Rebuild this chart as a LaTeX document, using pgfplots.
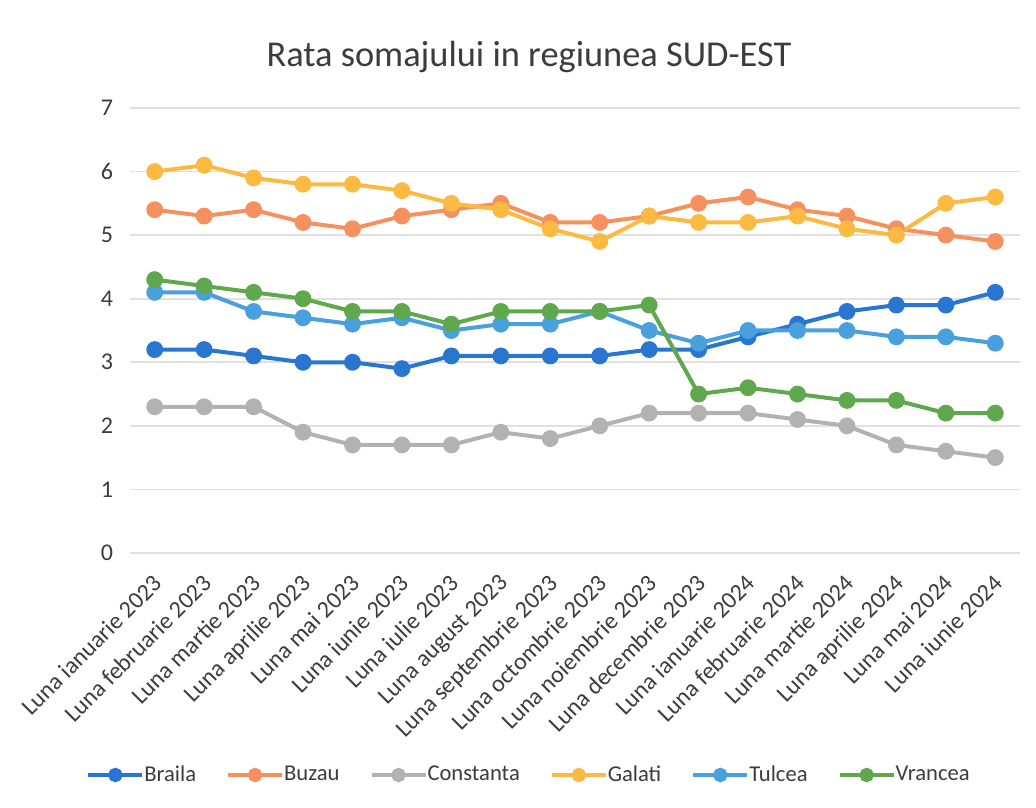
\documentclass[border=0pt]{standalone}
\usepackage{pgfplots}
\pgfplotsset{compat=1.18}
\usepackage{fontspec}
\setmainfont{Carlito}
\definecolor{cBraila}{RGB}{40,118,208}
\definecolor{cBuzau}{RGB}{245,145,95}
\definecolor{cConst}{RGB}{178,178,178}
\definecolor{cGalati}{RGB}{252,186,66}
\definecolor{cTulcea}{RGB}{72,160,222}
\definecolor{cVrancea}{RGB}{96,168,78}
\definecolor{gridc}{RGB}{225,225,225}
\definecolor{txt}{RGB}{60,60,60}
\begin{document}
\begin{tikzpicture}
\begin{axis}[
  name=ax, at={(0,0)}, anchor=south west,
  scale only axis, width=445pt, height=222.5pt,
  xmin=-0.5, xmax=17.5, ymin=0, ymax=7,
  axis line style={draw=none},
  tick style={draw=none},
  ymajorgrids, grid style={gridc, line width=0.8pt},
  ytick={0,1,2,3,4,5,6,7},
  xtick={0,...,17},
  xticklabels={Luna ianuarie 2023,Luna februarie 2023,Luna martie 2023,Luna aprilie 2023,Luna mai 2023,Luna iunie 2023,Luna iulie 2023,Luna august 2023,Luna septembrie 2023,Luna octombrie 2023,Luna noiembrie 2023,Luna decembrie 2023,Luna ianuarie 2024,Luna februarie 2024,Luna martie 2024,Luna aprilie 2024,Luna mai 2024,Luna iunie 2024},
  x tick label style={rotate=45, anchor=north east, inner sep=1pt, font=\fontsize{12}{14}\selectfont, text=txt, xshift=-7pt, yshift=-4.8pt},
  y tick label style={font=\fontsize{12}{14}\selectfont, text=txt, xshift=-5pt},
  /pgf/number format/assume math mode=true,
  every axis plot/.append style={line width=2pt, mark=*, mark size=3.2pt, mark options={solid}},
  legend columns=6,
  legend style={at={(200pt,-111pt)}, anchor=center, draw=none, font=\fontsize{11.3}{13}\selectfont, text=txt, inner sep=0pt,
    /tikz/every even column/.append style={column sep=13pt},
    /tikz/every odd column/.append style={column sep=-2pt}},
  legend image code/.code={\draw[#1, line width=2pt] (0pt,0pt) -- (27pt,0pt); \draw[#1, mark size=2.6pt] plot coordinates {(13.5pt,0pt)};},
]
\addplot[color=cBraila] coordinates {(0,3.2)(1,3.2)(2,3.1)(3,3.0)(4,3.0)(5,2.9)(6,3.1)(7,3.1)(8,3.1)(9,3.1)(10,3.2)(11,3.2)(12,3.4)(13,3.6)(14,3.8)(15,3.9)(16,3.9)(17,4.1)};
\addlegendentry{Braila}
\addplot[color=cBuzau] coordinates {(0,5.4)(1,5.3)(2,5.4)(3,5.2)(4,5.1)(5,5.3)(6,5.4)(7,5.5)(8,5.2)(9,5.2)(10,5.3)(11,5.5)(12,5.6)(13,5.4)(14,5.3)(15,5.1)(16,5.0)(17,4.9)};
\addlegendentry{Buzau}
\addplot[color=cConst] coordinates {(0,2.3)(1,2.3)(2,2.3)(3,1.9)(4,1.7)(5,1.7)(6,1.7)(7,1.9)(8,1.8)(9,2.0)(10,2.2)(11,2.2)(12,2.2)(13,2.1)(14,2.0)(15,1.7)(16,1.6)(17,1.5)};
\addlegendentry{Constanta}
\addplot[color=cGalati] coordinates {(0,6.0)(1,6.1)(2,5.9)(3,5.8)(4,5.8)(5,5.7)(6,5.5)(7,5.4)(8,5.1)(9,4.9)(10,5.3)(11,5.2)(12,5.2)(13,5.3)(14,5.1)(15,5.0)(16,5.5)(17,5.6)};
\addlegendentry{Galati}
\addplot[color=cTulcea] coordinates {(0,4.1)(1,4.1)(2,3.8)(3,3.7)(4,3.6)(5,3.7)(6,3.5)(7,3.6)(8,3.6)(9,3.8)(10,3.5)(11,3.3)(12,3.5)(13,3.5)(14,3.5)(15,3.4)(16,3.4)(17,3.3)};
\addlegendentry{Tulcea}
\addplot[color=cVrancea] coordinates {(0,4.3)(1,4.2)(2,4.1)(3,4.0)(4,3.8)(5,3.8)(6,3.6)(7,3.8)(8,3.8)(9,3.8)(10,3.9)(11,2.5)(12,2.6)(13,2.5)(14,2.4)(15,2.4)(16,2.2)(17,2.2)};
\addlegendentry{Vrancea}
\end{axis}
\node[text=txt, font=\fontsize{18.2}{22}\selectfont] at (199.5pt,248pt) {Rata somajului in regiunea SUD-EST};
\path[use as bounding box] (-65pt,-127pt) rectangle (453pt,276.5pt);
\end{tikzpicture}
\end{document}
